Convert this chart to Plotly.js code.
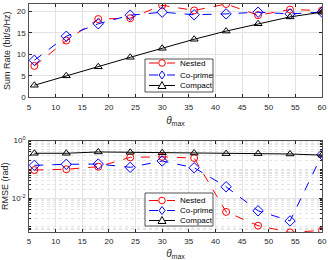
<!DOCTYPE html>
<html><head><meta charset="utf-8">
<script src="https://cdn.plot.ly/plotly-3.0.1.min.js"></script>
<style>html,body{margin:0;padding:0;background:#fff}#c{width:328px;height:260px}</style>
</head><body><div id="c"></div>
<script>
var theta = [6,12,18,24,30,36,42,48,54,60];
var rateNested  = [7.3,13.2,18.2,18.4,21.4,20.2,21.7,19.1,20.4,20.2];
var rateCoprime = [8.6,14.2,17.1,19.1,19.8,19.2,19.4,19.8,19.4,19.8];
var rateCompact = [2.8,5.0,7.1,9.3,11.4,13.5,15.4,17.1,18.7,19.8];
var rmseNested  = [0.094,0.10,0.123,0.26,0.27,0.246,0.0033,0.0011,0.00064,0.00075];
var rmseCoprime = [0.137,0.149,0.152,0.117,0.194,0.113,0.0247,0.0036,0.0016,0.32];
var rmseCompact = [0.36,0.36,0.40,0.39,0.376,0.367,0.35,0.35,0.34,0.31];
var names = ['Nested','Co-prime','Compact'];
var xTicks = [5,10,15,20,25,30,35,40,45,50,55,60];
var yTicksTop = [0,5,10,15,20];
var yTicksLog = [0.01,1];
var yTickTextLog = ['10<sup>-2</sup>','10<sup>0</sup>'];

var W = 328, H = 260, ML = 29, MR = 6, MT = 4, MB = 28;
var PW = W - ML - MR, PH = H - MT - MB;
function px(x){ return (x - ML) / PW; }
function py(y){ return (H - MB - y) / PH; }

var styles = [
  {color:'#ff0000', dash:'dash', symbol:'circle-open', size:7},
  {color:'#0000ff', dash:'dash', symbol:'diamond-open', size:8},
  {color:'#000000', dash:'solid', symbol:'triangle-up-open', size:7}
];
var topData = [rateNested, rateCoprime, rateCompact];
var botData = [rmseNested, rmseCoprime, rmseCompact];
var traces = [];
function mk(d, i, xa, ya){
  return {x:theta, y:d, name:names[i], type:'scatter', mode:'lines+markers', xaxis:xa, yaxis:ya, showlegend:false,
    line:{color:styles[i].color, dash:styles[i].dash, width:1},
    marker:{symbol:styles[i].symbol, size:styles[i].size, color:styles[i].color, line:{width:1, color:styles[i].color}}};
}
topData.forEach(function(d,i){ traces.push(mk(d,i,'x','y')); });
botData.forEach(function(d,i){ traces.push(mk(d,i,'x2','y2')); });

var minorVals = [];
[-4,-3,-2,-1].forEach(function(e){ for (var k=1;k<=9;k++) { if (!(k===1 && e===-2)) minorVals.push(k*Math.pow(10,e)); } });

var FF = 'Liberation Sans, Arial, sans-serif';
var font = {family:FF, size:8, color:'#262626'};
var axBase = {showline:true, linecolor:'#262626', linewidth:0.8, mirror:'ticks', ticks:'inside', ticklen:3,
  tickcolor:'#262626', gridcolor:'#e3e3e3', gridwidth:1, zeroline:false, tickfont:font, automargin:false};
var xTitle = {text:'<i>θ</i><sub>max</sub>', font:{family:FF, size:10, color:'#262626'}, standoff:6};

// custom legends (box, line samples, marker samples, labels)
var shapes = [], annotations = [];
function legendAt(left, top, right, bottom, rows){
  shapes.push({type:'rect', xref:'paper', yref:'paper', x0:px(left), x1:px(right), y0:py(bottom), y1:py(top),
    line:{color:'#262626', width:0.8}, fillcolor:'#ffffff', layer:'above'});
  rows.forEach(function(ry, i){
    var s = styles[i], x0 = left + 4, x1 = left + 30, cx = (x0 + x1) / 2;
    shapes.push({type:'line', xref:'paper', yref:'paper', x0:px(x0), x1:px(x1), y0:py(ry), y1:py(ry),
      line:{color:s.color, width:1, dash:s.dash}, layer:'above'});
    var r = 3.3, path;
    if (i === 0) {
      shapes.push({type:'circle', xref:'paper', yref:'paper', x0:px(cx - r), x1:px(cx + r), y0:py(ry + r), y1:py(ry - r),
        line:{color:s.color, width:1}, fillcolor:'#ffffff', layer:'above'});
    } else {
      if (i === 1) {
        var d = 4;
        path = 'M' + px(cx) + ',' + py(ry - d) + ' L' + px(cx + d*0.75) + ',' + py(ry) + ' L' + px(cx) + ',' + py(ry + d) + ' L' + px(cx - d*0.75) + ',' + py(ry) + ' Z';
      } else {
        path = 'M' + px(cx) + ',' + py(ry - 4) + ' L' + px(cx + 4) + ',' + py(ry + 3) + ' L' + px(cx - 4) + ',' + py(ry + 3) + ' Z';
      }
      shapes.push({type:'path', xref:'paper', yref:'paper', path:path, line:{color:s.color, width:1}, fillcolor:'#ffffff', layer:'above'});
    }
    annotations.push({xref:'paper', yref:'paper', x:px(x1 + 3), y:py(ry), xanchor:'left', yanchor:'middle',
      text:names[i], showarrow:false, font:{family:FF, size:8, color:'#000'}});
  });
}
legendAt(145, 59, 213, 92, [63, 75, 85.5]);
legendAt(145, 193, 213, 226, [200.5, 210.5, 220.5]);

var layout = {
  width:W, height:H, margin:{l:ML, r:MR, t:MT, b:MB},
  paper_bgcolor:'#fff', plot_bgcolor:'#fff', font:font, showlegend:false,
  xaxis: Object.assign({}, axBase, {domain:[0,1], anchor:'y', range:[5,60], tickmode:'array', tickvals:xTicks, ticklabelstandoff:2, title:xTitle}),
  yaxis: Object.assign({}, axBase, {domain:[py(97.3),1], anchor:'x', range:[0,21.7], tickmode:'array', tickvals:yTicksTop, ticklabelstandoff:1,
    title:{text:'Sum Rate (bit/s/Hz)', font:{family:FF, size:9, color:'#262626'}, standoff:4}}),
  xaxis2: Object.assign({}, axBase, {domain:[0,1], anchor:'y2', range:[5,60], tickmode:'array', tickvals:xTicks, ticklabelstandoff:2, title:xTitle}),
  yaxis2: Object.assign({}, axBase, {domain:[0,py(140.5)], anchor:'x2', type:'log', range:[-3.18,0],
    tickmode:'array', tickvals:yTicksLog, ticktext:yTickTextLog, ticklabelstandoff:1,
    minor:{tickmode:'array', tickvals:minorVals, showgrid:true, gridcolor:'#e3e3e3', griddash:'dot', gridwidth:1, ticks:'inside', ticklen:2, tickcolor:'#262626'},
    title:{text:'RMSE (rad)', font:{family:FF, size:9, color:'#262626'}, standoff:4}}),
  shapes:shapes, annotations:annotations
};
Plotly.newPlot('c', traces, layout, {displayModeBar:false, staticPlot:true});
</script></body></html>
